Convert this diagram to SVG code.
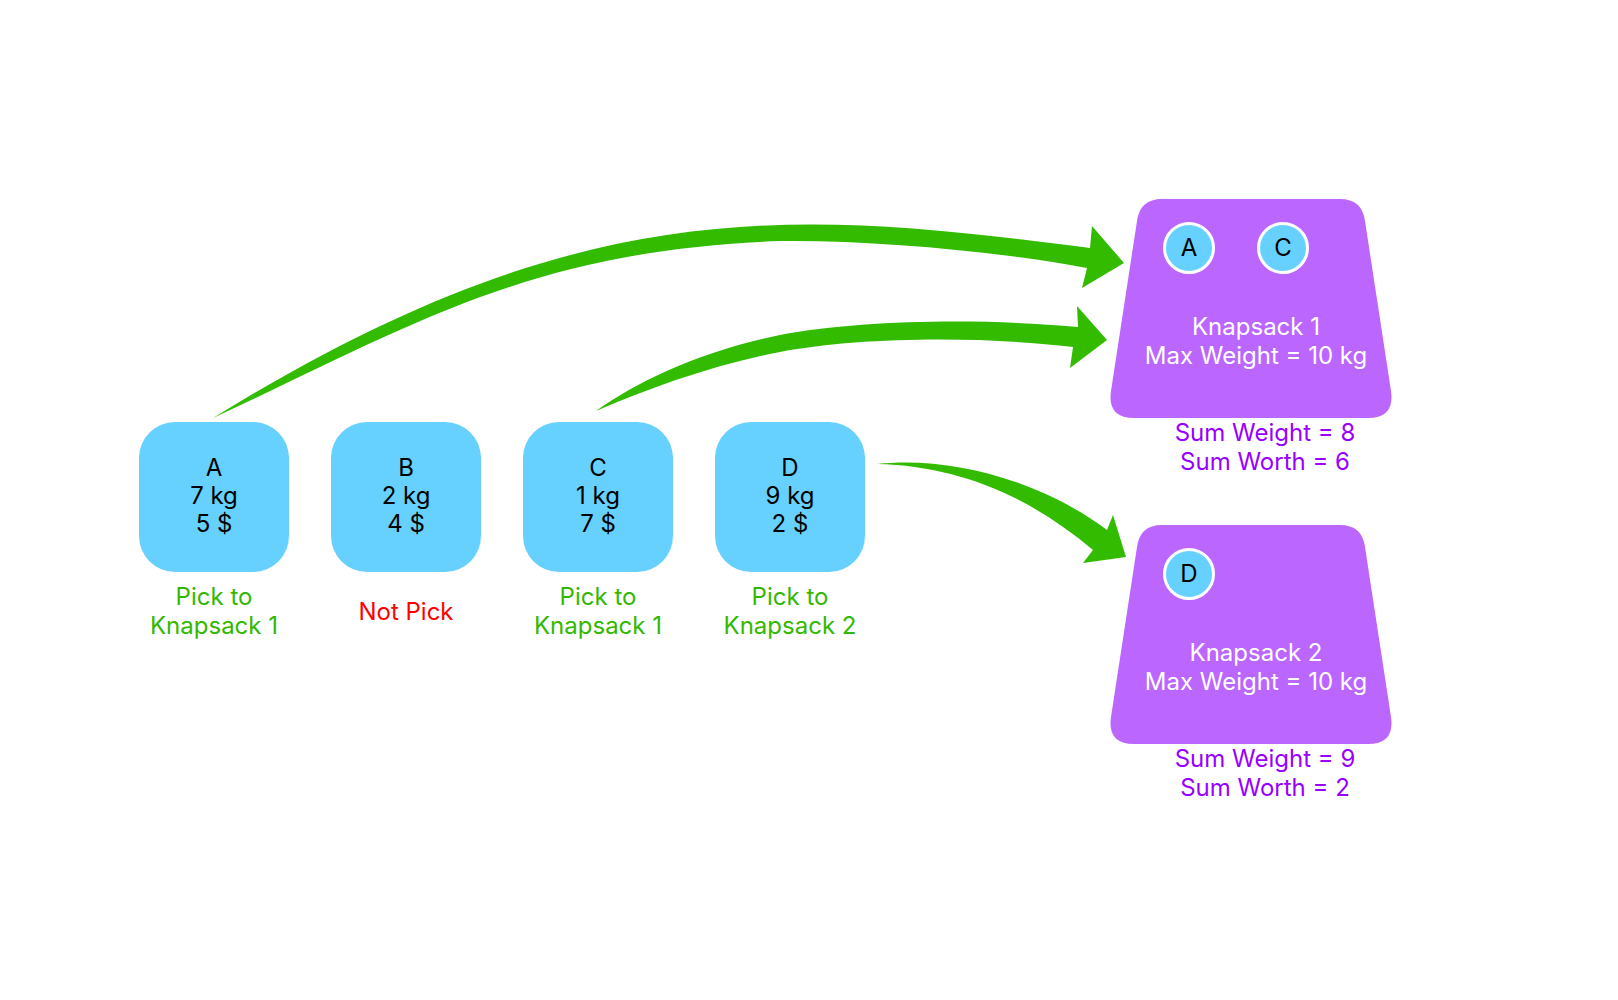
<svg xmlns="http://www.w3.org/2000/svg" width="1618" height="1000" viewBox="0 0 1618 1000">
  <style>
    text { font-family: Inter, "Noto Sans", "Liberation Sans", sans-serif; font-size: 24px; text-anchor: middle; }
    .item { fill: #66d1ff; }
    .dark { fill: #000000; }
    .pick { fill: #33b800; }
    .skip { fill: #ff0000; }
    .sack { fill: #bb66ff; }
    .sack-text { fill: #ffffff; }
    .sum { fill: #9900ff; }
    .chip { fill: #66d1ff; stroke: #ffffff; stroke-width: 3; }
    .arrow { fill: #33bb00; }
  </style>
  <rect width="1618" height="1000" fill="#ffffff"/>

  <!-- connectors: tapered curved arrows -->
  <g id="connectors">
    <path class="arrow" d="M213,418 C578,192 790,209 1090,248 L1092,226 L1124,263 L1082,288 L1087,268 C1000,252 880,240 780,241 C530,250 413,325 213,418 Z"/>
    <path class="arrow" d="M596,411 C640,380 700,352 780,335 C860,320 980,318 1078,327 L1077,306 L1107,340 L1070,368 L1073,347 C980,336 860,337 780,352 C710,366 650,388 596,411 Z"/>
    <path class="arrow" d="M877,464 C950,456 1040,480 1107,530 L1113,515 L1126,557 L1083,563 L1093,550 C1030,497 960,466 877,464 Z"/>
  </g>

  <!-- items -->
  <g id="item-a">
    <rect class="item" x="139" y="422" width="150" height="150" rx="36"/>
    <text class="dark" x="214" y="476">A</text>
    <text class="dark" x="214" y="504">7 kg</text>
    <text class="dark" x="214" y="532">5 $</text>
    <text class="pick" x="214" y="605">Pick to</text>
    <text class="pick" x="214" y="634">Knapsack 1</text>
  </g>
  <g id="item-b">
    <rect class="item" x="331" y="422" width="150" height="150" rx="36"/>
    <text class="dark" x="406" y="476">B</text>
    <text class="dark" x="406" y="504">2 kg</text>
    <text class="dark" x="406" y="532">4 $</text>
    <text class="skip" x="406" y="620">Not Pick</text>
  </g>
  <g id="item-c">
    <rect class="item" x="523" y="422" width="150" height="150" rx="36"/>
    <text class="dark" x="598" y="476">C</text>
    <text class="dark" x="598" y="504">1 kg</text>
    <text class="dark" x="598" y="532">7 $</text>
    <text class="pick" x="598" y="605">Pick to</text>
    <text class="pick" x="598" y="634">Knapsack 1</text>
  </g>
  <g id="item-d">
    <rect class="item" x="715" y="422" width="150" height="150" rx="36"/>
    <text class="dark" x="790" y="476">D</text>
    <text class="dark" x="790" y="504">9 kg</text>
    <text class="dark" x="790" y="532">2 $</text>
    <text class="pick" x="790" y="605">Pick to</text>
    <text class="pick" x="790" y="634">Knapsack 2</text>
  </g>

  <!-- knapsacks -->
  <defs>
    <path id="sack-shape" d="M1162,199 L1340,199 Q1362,199 1365,221 L1391,391 Q1395,418 1368,418 L1134,418 Q1107,418 1111,391 L1137,221 Q1140,199 1162,199 Z"/>
  </defs>
  <g id="knapsack-1">
    <use href="#sack-shape" class="sack"/>
    <circle class="chip" cx="1189" cy="248" r="24.5"/>
    <text class="dark" x="1189" y="256">A</text>
    <circle class="chip" cx="1283" cy="248" r="24.5"/>
    <text class="dark" x="1283" y="256">C</text>
    <text class="sack-text" x="1256" y="335">Knapsack 1</text>
    <text class="sack-text" x="1256" y="364">Max Weight = 10 kg</text>
    <text class="sum" x="1265" y="441">Sum Weight = 8</text>
    <text class="sum" x="1265" y="470">Sum Worth = 6</text>
  </g>
  <g id="knapsack-2">
    <use href="#sack-shape" class="sack" transform="translate(0,326)"/>
    <circle class="chip" cx="1189" cy="574" r="24.5"/>
    <text class="dark" x="1189" y="582">D</text>
    <text class="sack-text" x="1256" y="661">Knapsack 2</text>
    <text class="sack-text" x="1256" y="690">Max Weight = 10 kg</text>
    <text class="sum" x="1265" y="767">Sum Weight = 9</text>
    <text class="sum" x="1265" y="796">Sum Worth = 2</text>
  </g>
</svg>
